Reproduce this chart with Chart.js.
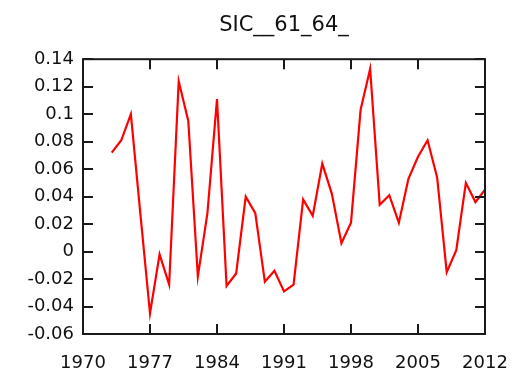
<!DOCTYPE html>
<html>
<head>
<meta charset="utf-8">
<script src="https://cdn.jsdelivr.net/npm/chart.js@4/dist/chart.umd.min.js"></script>
<style>
  html, body { margin: 0; padding: 0; background: #fff; }
  #wrap { width: 517px; height: 373px; }
</style>
</head>
<body>
<div id="wrap"><canvas id="c" width="517" height="373"></canvas></div>
<script>
// Annual series for SIC__61_64_
const years = [
  1973, 1974, 1975, 1976, 1977, 1978, 1979, 1980, 1981, 1982,
  1983, 1984, 1985, 1986, 1987, 1988, 1989, 1990, 1991, 1992,
  1993, 1994, 1995, 1996, 1997, 1998, 1999, 2000, 2001, 2002,
  2003, 2004, 2005, 2006, 2007, 2008, 2009, 2010, 2011, 2012
];
const values = [
  0.072, 0.081, 0.100, 0.027, -0.045, -0.002, -0.024, 0.124, 0.095, -0.018,
  0.028, 0.111, -0.025, -0.016, 0.040, 0.028, -0.022, -0.014, -0.029, -0.024,
  0.038, 0.026, 0.064, 0.042, 0.006, 0.021, 0.103, 0.133, 0.034, 0.041,
  0.021, 0.053, 0.069, 0.081, 0.054, -0.015, 0.001, 0.050, 0.036, 0.045
];
const xTicks = [1970, 1977, 1984, 1991, 1998, 2005, 2012];
const yTicks = [-0.06, -0.04, -0.02, 0, 0.02, 0.04, 0.06, 0.08, 0.1, 0.12, 0.14];
const titleText = 'SIC__61_64_';

const FONT = 'DejaVu Sans';

// Frame around the plot with inward-pointing tick marks on all four sides
const framePlugin = {
  id: 'frame',
  afterDatasetsDraw(chart) {
    const { ctx, chartArea: a, scales } = chart;
    const len = 10;
    ctx.save();
    ctx.strokeStyle = '#1a1a1a';
    ctx.lineWidth = 2;
    ctx.beginPath();
    xTicks.forEach(v => {
      const px = Math.round(scales.x.getPixelForValue(v));
      ctx.moveTo(px, a.bottom); ctx.lineTo(px, a.bottom - len);
      ctx.moveTo(px, a.top); ctx.lineTo(px, a.top + len);
    });
    yTicks.forEach(v => {
      const py = Math.round(scales.y.getPixelForValue(v));
      ctx.moveTo(a.left, py); ctx.lineTo(a.left + len, py);
      ctx.moveTo(a.right, py); ctx.lineTo(a.right - len, py);
    });
    ctx.stroke();
    ctx.strokeRect(a.left, a.top, a.right - a.left, a.bottom - a.top);
    ctx.restore();
  }
};

new Chart(document.getElementById('c'), {
  type: 'line',
  data: {
    datasets: [{
      data: years.map((y, i) => ({ x: y, y: values[i] })),
      borderColor: '#ff0000',
      borderWidth: 2.2,
      pointRadius: 0,
      tension: 0,
      fill: false
    }]
  },
  options: {
    responsive: false,
    animation: false,
    devicePixelRatio: 1,
    layout: { padding: { left: 0, right: 32, top: 0, bottom: 0 } },
    plugins: {
      legend: { display: false },
      tooltip: { enabled: false },
      title: {
        display: true,
        fullSize: false,
        text: titleText,
        color: '#111',
        font: { family: FONT, size: 21, weight: 'normal' },
        padding: { top: 13, bottom: 21 }
      }
    },
    scales: {
      x: {
        type: 'linear',
        min: 1970,
        max: 2012,
        afterBuildTicks(scale) { scale.ticks = xTicks.map(v => ({ value: v })); },
        afterFit(scale) {
          scale.height = 39;
          scale.paddingLeft = 0;
          scale.paddingRight = 0;
        },
        grid: { display: false, drawTicks: false },
        border: { display: false },
        ticks: {
          padding: 19,
          color: '#111',
          maxRotation: 0,
          autoSkip: false,
          font: { family: FONT, size: 18 },
          callback: v => String(v)
        }
      },
      y: {
        type: 'linear',
        min: -0.06,
        max: 0.14,
        afterBuildTicks(scale) { scale.ticks = yTicks.map(v => ({ value: v })); },
        afterFit(scale) {
          scale.width = 83;
          scale.paddingTop = 0;
          scale.paddingBottom = 0;
        },
        grid: { display: false, drawTicks: false },
        border: { display: false },
        ticks: {
          padding: 9,
          color: '#111',
          autoSkip: false,
          font: { family: FONT, size: 18 },
          callback: v => String(parseFloat(Number(v).toFixed(2)))
        }
      }
    }
  },
  plugins: [framePlugin]
});
</script>
</body>
</html>
